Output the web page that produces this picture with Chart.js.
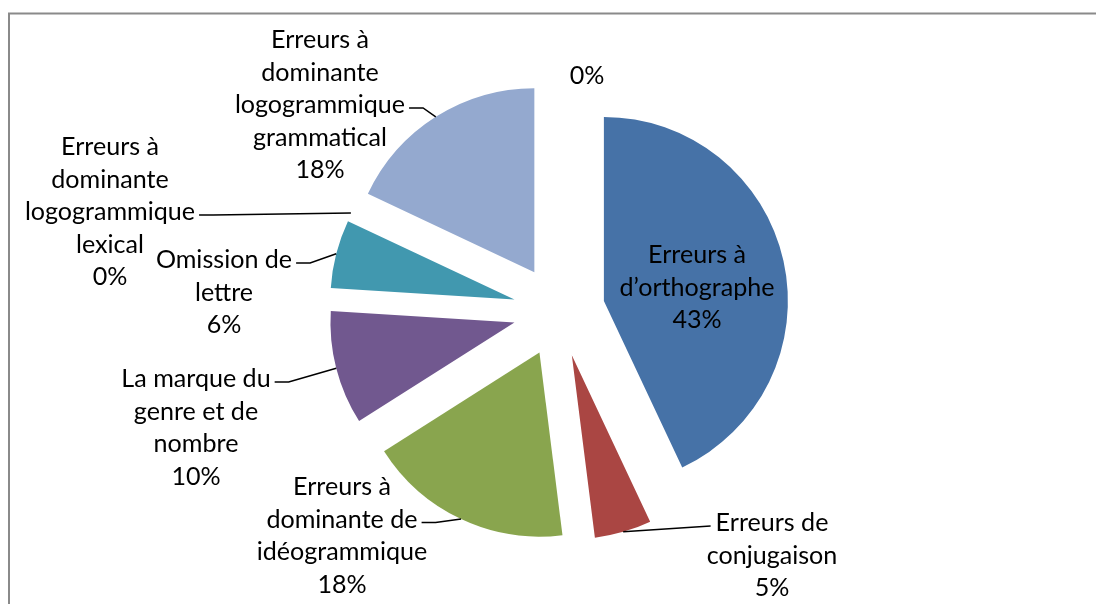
<!DOCTYPE html>
<html>
<head>
<meta charset="utf-8">
<script src="https://cdn.jsdelivr.net/npm/chart.js@4.4.0/dist/chart.umd.min.js"></script>
<style>
  html, body { margin: 0; padding: 0; background: #fff; overflow: hidden; }
  #wrap { position: relative; width: 1096px; height: 604px; }
</style>
</head>
<body>
<div id="wrap"><canvas id="pie" width="1096" height="604"></canvas></div>
<script>
// categories (label lines) and values, in drawing order from 12 o'clock clockwise
const categories = [
  ['Erreurs à', 'd\u2019orthographe'],
  ['Erreurs de', 'conjugaison'],
  ['Erreurs à', 'dominante de', 'idéogrammique'],
  ['La marque du', 'genre et de', 'nombre'],
  ['Omission de', 'lettre'],
  ['Erreurs à', 'dominante', 'logogrammique', 'lexical'],
  ['Erreurs à', 'dominante', 'logogrammique', 'grammatical'],
  []
];
const percentages = [43, 5, 18, 10, 6, 0, 18, 0];
const sliceColors = ['#4672a7', '#aa4643', '#89a54e', '#71588f', '#4198af', '#4f81bd', '#94a9cf', '#c0504d'];

// label placement (centre x, baseline of first line, which line gets the leader, side of the leader)
const labelLayout = [
  { x: 697, y: 263, lead: -1 },
  { x: 772, y: 531, lead: 0, side: 'left' },
  { x: 342, y: 495, lead: 1, side: 'right' },
  { x: 196, y: 387, lead: 0, side: 'right' },
  { x: 224, y: 268, lead: 0, side: 'right' },
  { x: 110, y: 155, lead: 2, side: 'right' },
  { x: 320, y: 48, lead: 2, side: 'right' },
  { x: 587, y: 84, lead: -1 }
];

const EXPLODE = 46;      // distance each slice is pulled out (excel style, no radius change)
const LINE_H = 32.5;

function fitFont(ctx) {
  ctx.font = '100px Lato';
  const w = ctx.measureText('logogrammique').width;
  return Math.round(100 * 170 / w * 10) / 10;
}

// chart.js "offset" also grows the radius, so pull the arcs out here instead
const explode = {
  id: 'explode',
  afterDatasetUpdate(chart, args) {
    args.meta.data.forEach(el => {
      const mid = (el.startAngle + el.endAngle) / 2;
      el.x += Math.cos(mid) * EXPLODE;
      el.y += Math.sin(mid) * EXPLODE;
    });
  }
};

const excelLabels = {
  id: 'excelLabels',
  beforeDraw(chart) {
    const ctx = chart.ctx;
    ctx.save();
    ctx.strokeStyle = '#8a8a8a';
    ctx.lineWidth = 2;
    ctx.beginPath();
    ctx.moveTo(9, 700);
    ctx.lineTo(9, 13.5);
    ctx.lineTo(1200, 13.5);
    ctx.stroke();
    ctx.restore();
  },
  afterDraw(chart) {
    const ctx = chart.ctx;
    const meta = chart.getDatasetMeta(0);
    const size = fitFont(ctx);
    ctx.save();
    ctx.font = size + 'px Lato';
    ctx.fillStyle = '#000';
    ctx.textAlign = 'center';
    ctx.textBaseline = 'alphabetic';
    meta.data.forEach((el, i) => {
      const lay = labelLayout[i];
      const lines = categories[i].concat([percentages[i] + '%']);
      lines.forEach((t, k) => ctx.fillText(t, lay.x, lay.y + k * LINE_H));
      if (lay.lead < 0) return;
      const mid = (el.startAngle + el.endAngle) / 2;
      const ex = el.x + Math.cos(mid) * el.outerRadius;
      const ey = el.y + Math.sin(mid) * el.outerRadius;
      const half = ctx.measureText(lines[lay.lead]).width / 2;
      const ly = lay.y + lay.lead * LINE_H - 5;
      ctx.strokeStyle = '#000';
      ctx.lineWidth = 1.5;
      ctx.beginPath();
      if (lay.side === 'right') {
        const sx = lay.x + half + 4;
        ctx.moveTo(sx, ly);
        ctx.lineTo(sx + 14, ly);
      } else {
        ctx.moveTo(lay.x - half - 5, ly);
      }
      ctx.lineTo(ex, ey);
      ctx.stroke();
    });
    ctx.restore();
  }
};

new Chart(document.getElementById('pie'), {
  type: 'pie',
  data: {
    labels: categories,
    datasets: [{
      data: percentages,
      backgroundColor: sliceColors,
      borderWidth: 0,
      radius: 184
    }]
  },
  options: {
    responsive: false,
    animation: false,
    events: [],
    layout: { padding: { left: 22, top: 18, right: 0, bottom: 0 } },
    plugins: { legend: { display: false }, tooltip: { enabled: false } }
  },
  plugins: [explode, excelLabels]
});
</script>
</body>
</html>
